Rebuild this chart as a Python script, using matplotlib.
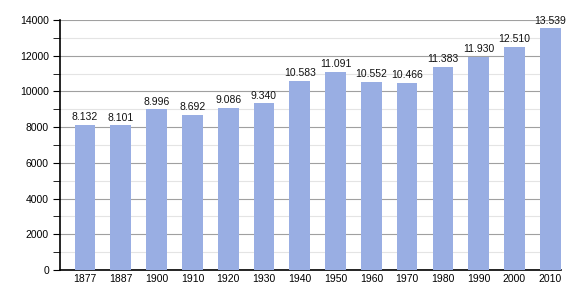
import numpy as np
import matplotlib.pyplot as plt
from matplotlib.ticker import MultipleLocator

years = ['1877', '1887', '1900', '1910', '1920', '1930', '1940',
         '1950', '1960', '1970', '1980', '1990', '2000', '2010']
population = [8132, 8101, 8996, 8692, 9086, 9340, 10583,
              11091, 10552, 10466, 11383, 11930, 12510, 13539]

plt.rcParams['font.family'] = ['Liberation Sans', 'DejaVu Sans']

fig = plt.figure(figsize=(5.8, 3.0), dpi=100)
ax = fig.add_axes([60 / 580, 30 / 300, 501 / 580, 250 / 300])

x = np.arange(len(years))
ax.bar(x, population, width=0.58, color='#99aee3', zorder=3)

for xi, v in zip(x, population):
    label = f'{v:,}'.replace(',', '.')
    ax.text(xi, v + 150, label, ha='center', va='bottom', fontsize=7.5, color='#111111', zorder=4)

ax.set_xlim(-0.7, 13.3)
ax.set_ylim(0, 14000)
ax.set_xticks(x)
ax.set_xticklabels(years)
ax.yaxis.set_major_locator(MultipleLocator(2000))
ax.yaxis.set_minor_locator(MultipleLocator(1000))

ax.grid(axis='y', which='major', color='#a0a0a0', linewidth=0.8, zorder=1)
ax.grid(axis='y', which='minor', color='#e4e4e4', linewidth=0.8, zorder=1)

for side in ['top', 'right']:
    ax.spines[side].set_visible(False)
ax.spines['left'].set_linewidth(1.2)
ax.spines['bottom'].set_linewidth(1.2)

ax.tick_params(axis='x', length=0, labelsize=7.5, pad=3)
ax.tick_params(axis='y', which='major', length=5, labelsize=7.5, pad=3)
ax.tick_params(axis='y', which='minor', length=5)

fig.savefig('out.png', dpi=100)
